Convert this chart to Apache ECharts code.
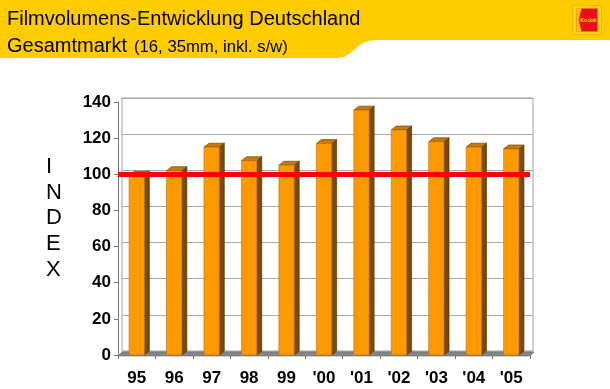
<!DOCTYPE html>
<html>
<head>
<meta charset="utf-8">
<script src="https://cdn.jsdelivr.net/npm/echarts@6/dist/echarts.min.js"></script>
<style>html,body{margin:0;padding:0;background:#fff}#c{width:610px;height:389px}</style>
</head>
<body>
<div id="c"></div>
<script>
var categories = ['95', '96', '97', '98', '99', "'00", "'01", "'02", "'03", "'04", "'05"];
var indexValues = [99.5, 102, 115, 107.5, 105, 117, 135.5, 124.5, 118, 115, 114];
var referenceLevel = 100;
var yTicks = [0, 20, 40, 60, 80, 100, 120, 140];

var FONT = 'Arial, "Liberation Sans", Helvetica, sans-serif';
var chart = echarts.init(document.getElementById('c'), null, {renderer: 'canvas'});

function renderBar(params, api) {
  var i = api.value(0), v = api.value(1);
  var top = api.coord([i, v]);
  var base = api.coord([i, 0]);
  var w = api.size([1, 0])[0] * 0.41;
  var dx = 5, dy = 4;
  var x0 = top[0] - w / 2;
  var yt = top[1], yb = base[1];
  return {
    type: 'group',
    children: [
      {type: 'polygon', shape: {points: [[x0 + w, yt], [x0 + w + dx, yt - dy], [x0 + w + dx, yb - dy], [x0 + w, yb]]},
        style: {fill: '#7a4a00', stroke: '#4a2c00', lineWidth: 0.6}},
      {type: 'polygon', shape: {points: [[x0, yt], [x0 + dx, yt - dy], [x0 + w + dx, yt - dy], [x0 + w, yt]]},
        style: {fill: '#c47a06', stroke: '#5a3600', lineWidth: 0.6}},
      {type: 'rect', shape: {x: x0, y: yt, width: w, height: yb - yt},
        style: {fill: '#ff9900', stroke: '#c07000', lineWidth: 0.6}}
    ]
  };
}

function renderFloor(params, api) {
  var cs = params.coordSys;
  var yb = cs.y + cs.height;
  var x1 = cs.x, x2 = cs.x + cs.width;
  return {
    type: 'polygon', shape: {points: [[x1, yb + 1], [x2, yb + 1], [x2 + 4, yb - 3], [x1 + 4, yb - 3]]},
    style: {fill: '#858585', stroke: '#6a6a6a', lineWidth: 0.6}
  };
}

var bandPoints = [[0, 0], [610, 0], [610, 40], [376, 40], [368, 41], [361, 44], [355, 49], [349, 54], [344, 57], [338, 58], [0, 58]];

var option = {
  backgroundColor: '#ffffff',
  animation: false,
  grid: [
    {left: 122, right: 77, top: 98, bottom: 38, show: true, borderColor: '#a0a0a0', borderWidth: 1, backgroundColor: '#ffffff'},
    {left: 118, right: 80, top: 102, bottom: 34}
  ],
  xAxis: [
    {gridIndex: 0, type: 'category', data: categories, show: false},
    {gridIndex: 1, type: 'category', data: categories,
      axisLine: {show: true, lineStyle: {color: '#7a7a7a', width: 1}},
      axisTick: {show: true, length: 4, alignWithLabel: false, lineStyle: {color: '#7a7a7a'}},
      axisLabel: {color: '#000', fontFamily: FONT, fontWeight: 'bold', fontSize: 17, margin: 15},
      splitLine: {show: false}}
  ],
  yAxis: [
    {gridIndex: 0, type: 'value', min: 0, max: 140, interval: 20,
      axisLine: {show: false}, axisTick: {show: false}, axisLabel: {show: false},
      splitLine: {show: true, lineStyle: {color: '#a8a8a8', width: 1}}},
    {gridIndex: 1, type: 'value', min: 0, max: 140, interval: 20,
      axisLine: {show: true, lineStyle: {color: '#7a7a7a', width: 1}},
      axisTick: {show: true, length: 4, lineStyle: {color: '#7a7a7a'}},
      axisLabel: {color: '#000', fontFamily: FONT, fontWeight: 'bold', fontSize: 17, margin: 7},
      splitLine: {show: false}}
  ],
  series: [
    {type: 'custom', xAxisIndex: 1, yAxisIndex: 1, renderItem: renderFloor, data: [[0, 0]], z: 1, silent: true},
    {type: 'custom', xAxisIndex: 1, yAxisIndex: 1, renderItem: renderBar, z: 3,
      data: indexValues.map(function (v, i) { return [i, v]; }),
      encode: {x: 0, y: 1},
      markLine: {symbol: 'none', silent: true, label: {show: false},
        lineStyle: {color: '#ff0000', width: 5, type: 'solid'},
        data: [{yAxis: referenceLevel}]}}
  ],
  graphic: [
    {type: 'polygon', z: 0, shape: {points: bandPoints}, style: {fill: '#ffcc00'}},
    {type: 'text', left: 7, top: 9, style: {text: 'Filmvolumens-Entwicklung Deutschland', fill: '#000',
      font: '20px ' + FONT}},
    {type: 'text', left: 7, top: 36, style: {text: 'Gesamtmarkt', fill: '#000', font: '20px ' + FONT}},
    {type: 'text', left: 134, top: 39, style: {text: '(16, 35mm, inkl. s/w)', fill: '#000', font: '16.7px ' + FONT}},
    {type: 'group', left: 572, top: 5, children: [
      {type: 'rect', shape: {x: 0, y: 0, width: 29, height: 29}, style: {fill: '#ffd21a', stroke: '#f0b800', lineWidth: 1}},
      {type: 'rect', shape: {x: 4, y: 3, width: 21, height: 23}, style: {fill: '#e8101a'}},
      {type: 'polygon', shape: {points: [[4, 3], [9, 3], [6, 14.5], [9, 26], [4, 26]]}, style: {fill: '#ffcc00'}},
      {type: 'text', x: 16, y: 14.5, style: {text: 'Kodak', fill: '#ffcc00', font: 'bold 5.5px ' + FONT, align: 'center', verticalAlign: 'middle'}}
    ]},
    {type: 'text', left: 46, top: 154, style: {text: 'I\nN\nD\nE\nX', fill: '#000', font: '22px ' + FONT,
      lineHeight: 25.7, align: 'center'}}
  ]
};
chart.setOption(option);
</script>
</body>
</html>
